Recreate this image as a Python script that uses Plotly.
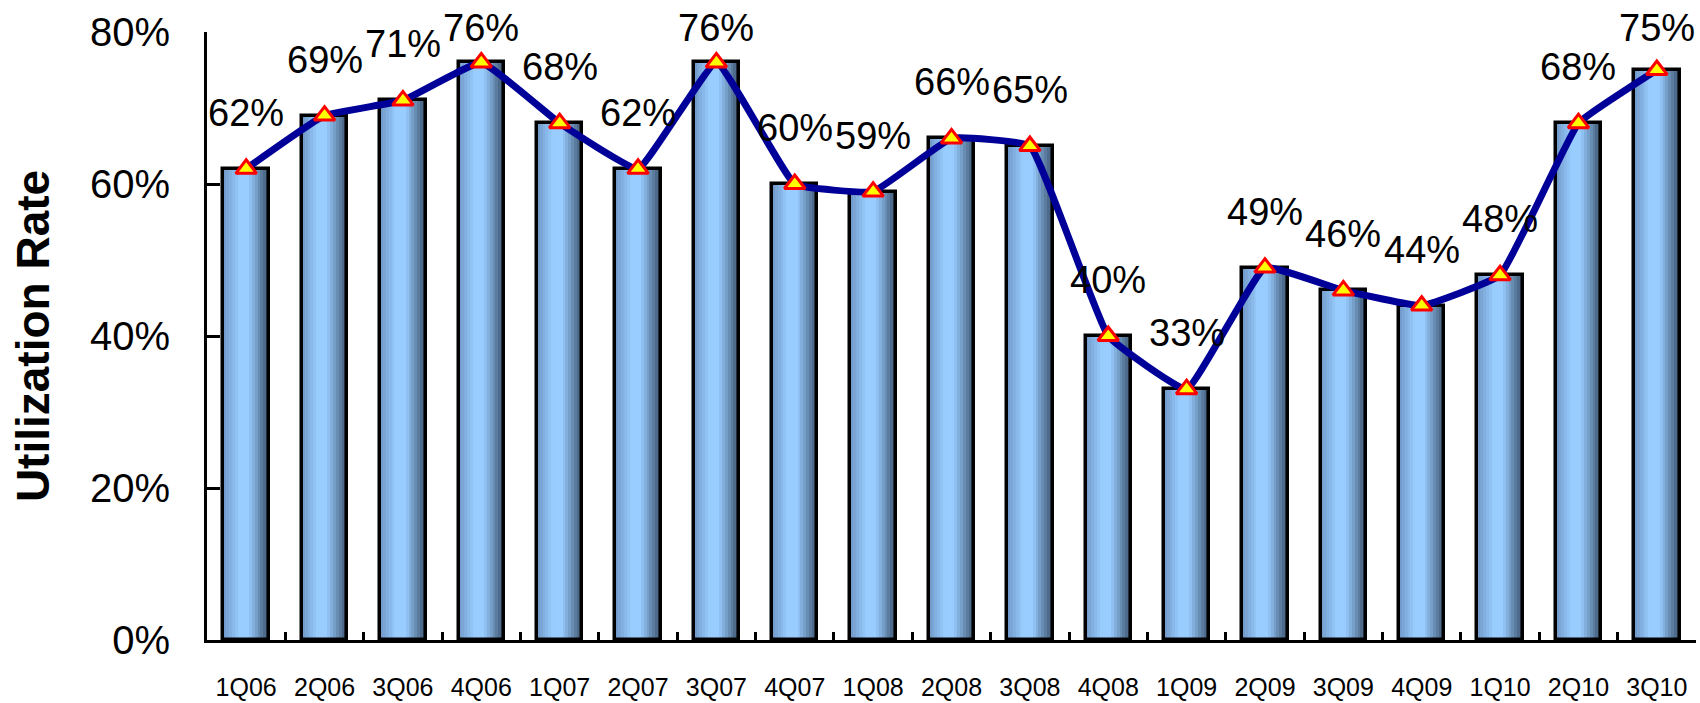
import plotly.graph_objects as go

categories = ["1Q06", "2Q06", "3Q06", "4Q06", "1Q07", "2Q07", "3Q07", "4Q07", "1Q08", "2Q08",
              "3Q08", "4Q08", "1Q09", "2Q09", "3Q09", "4Q09", "1Q10", "2Q10", "3Q10"]
utilization = [62, 69, 71, 76, 68, 62, 76, 60, 59, 66, 65, 40, 33, 49, 46, 44, 48, 68, 75]
y_ticks = [0, 20, 40, 60, 80]

FONT = "Liberation Sans, Arial, sans-serif"
BAR_W = 0.58
N_STRIPES = 16
stops = [(0.0, (0x6e, 0x97, 0xc6)), (0.35, (0x99, 0xcc, 0xff)), (0.55, (0x99, 0xcc, 0xff)),
         (1.0, (0x3a, 0x52, 0x6c))]


def grad(t):
    for (t0, c0), (t1, c1) in zip(stops[:-1], stops[1:]):
        if t0 <= t <= t1:
            f = (t - t0) / (t1 - t0) if t1 > t0 else 0
            return "rgb(%d,%d,%d)" % tuple(round(a + (b - a) * f) for a, b in zip(c0, c1))
    return "rgb(%d,%d,%d)" % stops[-1][1]


fig = go.Figure()
sw = BAR_W / N_STRIPES
for i in range(N_STRIPES):
    t = (i + 0.5) / N_STRIPES
    fig.add_trace(go.Bar(
        x=categories, y=utilization,
        width=sw * 1.15, offset=-BAR_W / 2 + i * sw,
        marker=dict(color=grad(t), line=dict(width=0)),
        hoverinfo="skip", showlegend=False,
    ))
# outline
fig.add_trace(go.Bar(
    x=categories, y=utilization, width=BAR_W, offset=-BAR_W / 2,
    marker=dict(color="rgba(0,0,0,0)", line=dict(color="black", width=3.5)),
    showlegend=False,
))
fig.add_trace(go.Scatter(
    x=categories, y=utilization, mode="lines+markers",
    line=dict(color="#000099", width=7, shape="spline", smoothing=0.3),
    marker=dict(symbol="triangle-up", size=18, color="#ffff00", line=dict(color="#ff0000", width=3)),
    cliponaxis=False, showlegend=False,
))

W, H = 1700, 703
TOP, BOTTOM, YMAX = 32, 640, 80
pxper = (BOTTOM - TOP) / YMAX
for c, v in zip(categories, utilization):
    ypix = BOTTOM - v * pxper
    shift = min(56, ypix - 28)
    fig.add_annotation(x=c, y=v, text=f"{v}%", showarrow=False, yshift=shift,
                       yanchor="middle", font=dict(family=FONT, size=38, color="black"))

fig.update_layout(
    width=W, height=H,
    margin=dict(l=207, r=4, t=TOP, b=H - BOTTOM, autoexpand=False),
    paper_bgcolor="white", plot_bgcolor="white",
    barmode="overlay", bargap=0,
    font=dict(family=FONT, color="black"),
    showlegend=False,
)
fig.update_xaxes(
    type="category", showline=True, linecolor="black", linewidth=3,
    ticks="inside", tickson="boundaries", ticklen=8, tickwidth=2.5, tickcolor="black",
    tickfont=dict(family=FONT, size=25, color="black"), ticklabelstandoff=23,
    showgrid=False, zeroline=False, range=[-0.5, len(categories) - 0.5],
)
fig.update_yaxes(
    range=[0, YMAX], tickvals=y_ticks, ticktext=[f"{t}%" for t in y_ticks],
    showline=True, linecolor="black", linewidth=3,
    ticks="inside", ticklen=13, tickwidth=2.5, tickcolor="black",
    tickfont=dict(family=FONT, size=40, color="black"), ticklabelstandoff=26,
    showgrid=False, zeroline=False,
    title=dict(text="<b>Utilization Rate</b>", font=dict(family=FONT, size=46, color="black"), standoff=26),
    automargin=False,
)
fig.write_html("out.html", config={"displayModeBar": False},
               post_script="document.body.style.margin='0';")
